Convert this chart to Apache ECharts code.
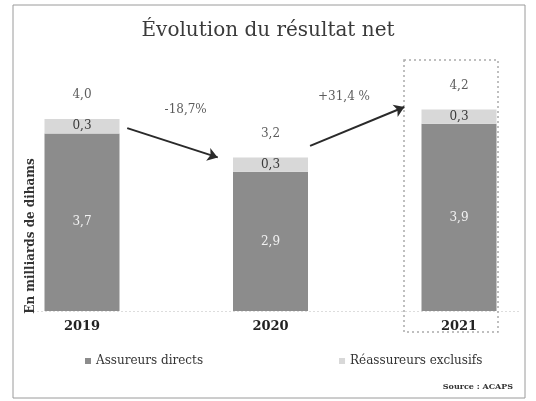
<!DOCTYPE html>
<html>
<head>
<meta charset="utf-8">
<script src="https://cdn.jsdelivr.net/npm/echarts@6/dist/echarts.min.js"></script>
<style>
  html, body { margin: 0; padding: 0; background: #fff; }
  #chart { width: 536px; height: 401px; }
</style>
</head>
<body>
<div id="chart"></div>
<script>
// data
var years = ['2019', '2020', '2021'];
var directs = [3.7, 2.9, 3.9];
var reassureurs = [0.3, 0.3, 0.3];
var totals = [4.0, 3.2, 4.2];
var changes = ['-18,7%', '+31,4 %'];
// where the change labels and arrows sit (x in year index, y in value)
var changePos = [[0.55, 4.19], [1.39, 4.46]];
var arrows = [
    [[0.24, 3.81], [0.72, 3.2]],
    [[1.21, 3.44], [1.71, 4.25]]
];

var serif = '"DejaVu Serif", "Liberation Serif", serif';

function fr(v) {
    return v.toFixed(1).replace('.', ',');
}

var chart;

initChart();

function initChart() {
    chart = echarts.init(document.getElementById('chart'));

    var arrowData = [];
    for (var i = 0; i < arrows.length; i++) {
        arrowData.push([
            { coord: arrows[i][0], symbol: 'none' },
            { coord: arrows[i][1], symbol: 'arrow' }
        ]);
    }

    var option = {
        backgroundColor: '#fff',
        animation: false,
        title: [{
            text: 'Évolution du résultat net',
            left: 'center',
            top: 16,
            textStyle: {
                fontFamily: serif,
                fontSize: 20,
                fontWeight: 'normal',
                color: '#3a3a3a'
            }
        }, {
            text: 'Source : ACAPS',
            right: 18,
            top: 378,
            textStyle: {
                fontFamily: serif,
                fontSize: 8,
                fontWeight: 'bold',
                color: '#333'
            }
        }],
        legend: {
            left: 80,
            top: 350,
            itemWidth: 6,
            itemHeight: 6,
            itemGap: 136,
            icon: 'rect',
            textStyle: {
                fontFamily: serif,
                fontSize: 12,
                color: '#333'
            },
            data: ['Assureurs directs', 'Réassureurs exclusifs']
        },
        grid: {
            left: 82,
            right: 77,
            top: 71,
            bottom: 90
        },
        xAxis: [{
            type: 'category',
            data: years,
            boundaryGap: false,
            splitLine: { show: false },
            axisTick: { show: false },
            axisLine: { show: false },
            axisLabel: {
                margin: 9,
                fontFamily: serif,
                fontSize: 13,
                fontWeight: 'bold',
                color: '#222'
            }
        }, {
            // helper axis for annotations between the years
            type: 'value',
            min: 0,
            max: 2,
            show: false
        }],
        yAxis: {
            type: 'value',
            min: 0,
            max: 5,
            show: false
        },
        series: [{
            name: 'Assureurs directs',
            type: 'bar',
            stack: 'total',
            barWidth: 75,
            data: directs,
            itemStyle: { color: '#8c8c8c' },
            label: {
                show: true,
                position: 'inside',
                formatter: function (p) { return fr(p.value); },
                fontFamily: serif,
                fontSize: 12,
                color: '#f2f2f2'
            }
        }, {
            name: 'Réassureurs exclusifs',
            type: 'bar',
            stack: 'total',
            barWidth: 75,
            data: reassureurs,
            itemStyle: { color: '#d8d8d8' },
            label: {
                show: true,
                position: 'inside',
                formatter: function (p) { return fr(p.value); },
                fontFamily: serif,
                fontSize: 12,
                color: '#3a3a3a'
            }
        }, {
            // totals above the bars
            name: 'total',
            type: 'scatter',
            symbolSize: 0,
            data: totals,
            label: {
                show: true,
                position: 'top',
                distance: 18,
                formatter: function (p) { return fr(p.value); },
                fontFamily: serif,
                fontSize: 12,
                color: '#333'
            }
        }, {
            // evolution percentages and arrows
            name: 'evolution',
            type: 'scatter',
            xAxisIndex: 1,
            symbolSize: 0,
            data: changePos.map(function (c, i) { return { value: c, name: changes[i] }; }),
            label: {
                show: true,
                position: 'inside',
                formatter: function (p) { return p.name; },
                fontFamily: serif,
                fontSize: 12,
                color: '#333'
            },
            markLine: {
                silent: true,
                symbolSize: 10,
                lineStyle: { color: '#2a2a2a', width: 2, type: 'solid' },
                label: { show: false },
                data: arrowData
            }
        }],
        graphic: [{
            // outer frame
            type: 'rect',
            shape: { x: 13, y: 5, width: 512, height: 393 },
            style: { fill: 'none', stroke: '#9a9a9a', lineWidth: 1 },
            silent: true
        }, {
            // faint baseline
            type: 'line',
            shape: { x1: 25, y1: 311.5, x2: 520, y2: 311.5 },
            style: { stroke: '#ddd', lineWidth: 1, lineDash: [2, 2] },
            silent: true
        }, {
            // dotted frame around 2021
            type: 'rect',
            shape: { x: 404, y: 60, width: 94, height: 272 },
            style: { fill: 'none', stroke: '#aaa', lineWidth: 1.5, lineDash: [2, 3] },
            silent: true
        }, {
            type: 'text',
            x: 31,
            y: 236,
            rotation: Math.PI / 2,
            style: {
                text: 'En milliards de dihams',
                fontFamily: serif,
                fontSize: 12,
                fontWeight: 'bold',
                fill: '#333',
                align: 'center',
                verticalAlign: 'middle'
            },
            silent: true
        }]
    };

    chart.setOption(option);
}
</script>
</body>
</html>
